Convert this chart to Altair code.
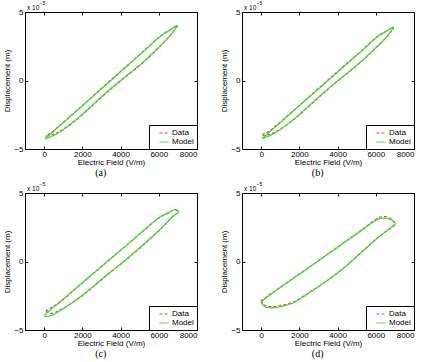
import altair as alt
import pandas as pd

FONT = "Liberation Sans"
SERIF = "Liberation Serif"
RED = "#f03c3c"
GREEN = "#33dd33"

# Electric field (V/m) and displacement (x 1e-5 m), loops in drawing order
a_data_E = [120, 400, 800, 1700, 2500, 3300, 4200, 5200, 6140, 6600, 6980, 6600, 6140, 5200, 4200, 3300, 2500, 1700, 800, 400, 60]
a_data_D = [-4.05, -3.98, -3.72, -2.86, -1.87, -0.86, 0.19, 1.33, 2.60, 3.30, 4.00, 3.70, 3.30, 2.15, 0.91, -0.20, -1.20, -2.20, -3.30, -3.78, -4.08]
a_model_E = [50, 400, 800, 1700, 2500, 3300, 4200, 5200, 6140, 6600, 6960, 6600, 6140, 5200, 4200, 3300, 2500, 1700, 800, 400, 50]
a_model_D = [-4.26, -4.08, -3.78, -2.82, -1.83, -0.82, 0.23, 1.37, 2.62, 3.29, 4.02, 3.69, 3.28, 2.12, 0.88, -0.24, -1.23, -2.22, -3.33, -3.83, -4.26]

b_data_E = [60, 400, 800, 1700, 2500, 3300, 4200, 5200, 6140, 6600, 6940, 6600, 6140, 5200, 4200, 3300, 2500, 1700, 800, 400, 100]
b_data_D = [-3.98, -3.95, -3.72, -2.87, -1.89, -0.88, 0.17, 1.32, 2.56, 3.22, 3.88, 3.64, 3.27, 2.11, 0.90, -0.21, -1.20, -2.18, -3.28, -3.72, -3.92]
b_model_E = [50, 400, 800, 1700, 2500, 3300, 4200, 5200, 6140, 6600, 6920, 6600, 6140, 5200, 4200, 3300, 2500, 1700, 800, 400, 50]
b_model_D = [-4.24, -4.06, -3.77, -2.83, -1.85, -0.85, 0.20, 1.35, 2.58, 3.22, 3.90, 3.63, 3.24, 2.08, 0.86, -0.25, -1.23, -2.21, -3.32, -3.81, -4.24]

c_data_E = [90, 400, 800, 1700, 2500, 3300, 4200, 5200, 6050, 6750, 7000, 6850, 6500, 6050, 5200, 4200, 3300, 2500, 1700, 800, 400, 100]
c_data_D = [-3.62, -3.78, -3.55, -2.80, -1.93, -0.98, 0.02, 1.22, 2.30, 3.32, 3.60, 3.78, 3.55, 3.22, 2.25, 1.05, 0.00, -0.95, -1.93, -3.00, -3.35, -3.60]
c_model_E = [50, 400, 800, 1700, 2500, 3300, 4200, 5200, 6050, 6750, 7040, 6870, 6500, 6050, 5200, 4200, 3300, 2500, 1700, 800, 400, 100, 30, 50]
c_model_D = [-4.02, -3.93, -3.62, -2.78, -1.90, -0.95, 0.05, 1.25, 2.32, 3.30, 3.65, 3.80, 3.55, 3.24, 2.25, 1.05, -0.02, -0.97, -1.91, -2.98, -3.45, -3.80, -3.95, -4.02]

d_data_E = [0, 100, 300, 600, 1000, 1700, 2500, 3300, 4300, 5200, 6000, 6400, 6800, 7000, 6850, 6500, 6200, 6050, 5200, 4200, 3300, 2500, 1700, 800, 400, 100, 0]
d_data_D = [-2.85, -3.10, -3.25, -3.30, -3.22, -2.95, -2.28, -1.55, -0.50, 0.62, 1.62, 2.05, 2.45, 2.70, 3.05, 3.28, 3.22, 3.12, 2.25, 1.25, 0.36, -0.44, -1.20, -2.08, -2.45, -2.78, -2.85]
d_model_E = [30, 200, 600, 1000, 1700, 2500, 3300, 4300, 5200, 6000, 6400, 6800, 7010, 6800, 6400, 6050, 5200, 4200, 3300, 2500, 1700, 800, 400, 100, 0, 30]
d_model_D = [-3.05, -3.30, -3.38, -3.30, -3.00, -2.30, -1.55, -0.50, 0.60, 1.60, 2.06, 2.50, 2.75, 3.05, 3.16, 3.04, 2.21, 1.23, 0.35, -0.44, -1.22, -2.10, -2.50, -2.85, -2.95, -3.05]

captions = ["(a)", "(b)", "(c)", "(d)"]
series_names = ["Data", "Model"]
x_ticks = [0, 2000, 4000, 6000, 8000]
y_ticks = [-5, 0, 5]
XDOM = [-1000, 8000]
YDOM = [-5, 5]
exp_base = ["x 10"]
exp_power = ["\u22125"]

W, H = 172, 137


def make_df(dE, dD, mE, mD):
    rows = []
    for i, (e, d) in enumerate(zip(dE, dD)):
        rows.append({"E": e, "D": d, "series": series_names[0], "i": i})
    for i, (e, d) in enumerate(zip(mE, mD)):
        rows.append({"E": e, "D": d, "series": series_names[1], "i": i})
    return pd.DataFrame(rows)


def panel(df, cap):
    xs = alt.Scale(domain=XDOM, nice=False, zero=False)
    ys = alt.Scale(domain=YDOM, nice=False, zero=False)
    leg = alt.Legend(orient="bottom-right", offset=0, padding=3, strokeColor="black",
                     fillColor="white", symbolType="stroke", symbolSize=81,
                     symbolStrokeWidth=1, symbolOffset=7, labelFont=FONT, labelFontSize=8,
                     labelOffset=3, rowPadding=0, cornerRadius=0, labelColor="black")
    lines = alt.Chart(df).mark_line(strokeWidth=1.2, clip=True, interpolate="catmull-rom").encode(
        x=alt.X("E:Q", scale=xs, axis=alt.Axis(orient="bottom", values=x_ticks, format="d",
                                               title="Electric Field (V/m)", offset=-3, tickSize=3,
                                               labelPadding=1, titlePadding=0, domain=False, grid=False)),
        y=alt.Y("D:Q", scale=ys, axis=alt.Axis(orient="left", values=y_ticks,
                                               title="Displacement (m)", offset=-3, tickSize=3,
                                               labelPadding=2, titlePadding=2, domain=False, grid=False)),
        color=alt.Color("series:N", title=None,
                        scale=alt.Scale(domain=series_names, range=[RED, GREEN]), legend=leg),
        strokeDash=alt.StrokeDash("series:N", title=None,
                                  scale=alt.Scale(domain=series_names, range=[[3, 2], [1, 0]]), legend=leg),
        order="i:Q",
    )
    mirror = alt.Chart(df).mark_point(opacity=0).encode(
        x=alt.X("E:Q", scale=xs, axis=alt.Axis(orient="top", values=x_ticks, labels=False, title="",
                                               offset=-3, tickSize=3, domain=False, grid=False,
                                               titlePadding=0, labelPadding=0)),
        y=alt.Y("D:Q", scale=ys, axis=alt.Axis(orient="right", values=y_ticks, labels=False, title="",
                                               offset=-3, tickSize=3, domain=False, grid=False,
                                               titlePadding=0, labelPadding=0)),
    )
    t1 = alt.Chart(pd.DataFrame({"t": exp_base})).mark_text(
        align="left", baseline="alphabetic", dx=2, dy=-2.5, fontSize=6.5, font=FONT, color="black"
    ).encode(x=alt.XDatum(XDOM[0], axis=None), y=alt.YDatum(YDOM[1], axis=None), text="t:N")
    t2 = alt.Chart(pd.DataFrame({"t": exp_power})).mark_text(
        align="left", baseline="alphabetic", dx=14.5, dy=-7.5, fontSize=5, font=FONT, color="black"
    ).encode(x=alt.XDatum(XDOM[0], axis=None), y=alt.YDatum(YDOM[1], axis=None), text="t:N")
    return alt.layer(lines, mirror, t1, t2).resolve_axis(x="independent", y="independent").properties(
        width=W, height=H,
        title=alt.Title(cap, orient="bottom", font=SERIF, fontSize=10, fontWeight="normal",
                        offset=1.5, frame="bounds", color="black"),
    )


dfs = [
    make_df(a_data_E, a_data_D, a_model_E, a_model_D),
    make_df(b_data_E, b_data_D, b_model_E, b_model_D),
    make_df(c_data_E, c_data_D, c_model_E, c_model_D),
    make_df(d_data_E, d_data_D, d_model_E, d_model_D),
]
panels = [panel(df, cap) for df, cap in zip(dfs, captions)]

chart = alt.concat(*panels, columns=2, spacing={"row": 44, "column": 45}, bounds="flush").resolve_scale(
    color="independent", strokeDash="independent"
).resolve_legend(color="independent", strokeDash="independent").properties(
    padding={"left": 3, "top": 0, "right": 0, "bottom": 0}
).configure_view(stroke="black", strokeWidth=1).configure_axis(
    labelFont=FONT, titleFont=FONT, labelFontSize=8, titleFontSize=8, titleFontWeight="normal",
    labelColor="black", titleColor="black", tickColor="black", tickWidth=1
)

chart.save("out.html", embed_options={"renderer": "svg", "actions": False})
